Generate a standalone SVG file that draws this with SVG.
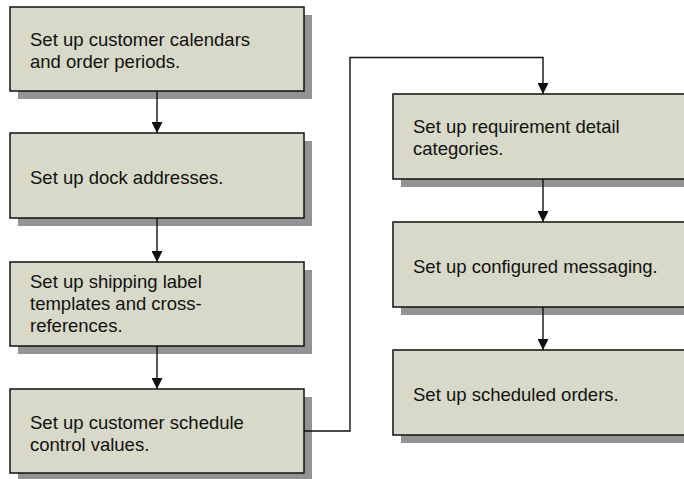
<svg xmlns="http://www.w3.org/2000/svg" width="684" height="479" viewBox="0 0 684 479">
<style>
.shadow{fill:#939393;}
.box{fill:#d8d9c8;stroke:#111;stroke-width:1.5;}
.lbl{font-family:"Liberation Sans",Arial,sans-serif;font-size:18.5px;fill:#111;}
.conn{fill:none;stroke:#111;stroke-width:1.4;}
</style>
<defs>
<marker id="arr" markerUnits="userSpaceOnUse" markerWidth="11" markerHeight="11" refX="11" refY="5.5" orient="auto">
<path d="M0,0 L11,5.5 L0,11 z" fill="#111"/>
</marker>
</defs>
<rect width="684" height="479" fill="#fff"/>
<g id="node1">
<rect class="shadow" x="18" y="15" width="294" height="84"/>
<rect class="box" x="10" y="7" width="294" height="84"/>
<text class="lbl" x="30" y="45.5">Set up customer calendars</text>
<text class="lbl" x="30" y="67.5">and order periods.</text>
</g>
<g id="node2">
<rect class="shadow" x="18" y="141" width="294" height="85"/>
<rect class="box" x="10" y="133" width="294" height="85"/>
<text class="lbl" x="30" y="183.5">Set up dock addresses.</text>
</g>
<g id="node3">
<rect class="shadow" x="18" y="270" width="294" height="84"/>
<rect class="box" x="10" y="262" width="294" height="84"/>
<text class="lbl" x="30" y="288">Set up shipping label</text>
<text class="lbl" x="30" y="310">templates and cross-</text>
<text class="lbl" x="30" y="332">references.</text>
</g>
<g id="node4">
<rect class="shadow" x="18" y="397" width="294" height="84"/>
<rect class="box" x="10" y="389" width="294" height="84"/>
<text class="lbl" x="30" y="428.5">Set up customer schedule</text>
<text class="lbl" x="30" y="450.5">control values.</text>
</g>
<g id="node5">
<rect class="shadow" x="401" y="102" width="294" height="85"/>
<rect class="box" x="393" y="94" width="294" height="85"/>
<text class="lbl" x="413" y="132.5">Set up requirement detail</text>
<text class="lbl" x="413" y="154.5">categories.</text>
</g>
<g id="node6">
<rect class="shadow" x="401" y="230" width="294" height="85"/>
<rect class="box" x="393" y="222" width="294" height="85"/>
<text class="lbl" x="413" y="272.5">Set up configured messaging.</text>
</g>
<g id="node7">
<rect class="shadow" x="401" y="358" width="294" height="85"/>
<rect class="box" x="393" y="350" width="294" height="85"/>
<text class="lbl" x="413" y="400.5">Set up scheduled orders.</text>
</g>
<g id="connectors">
<path class="conn" d="M157,91 V133" marker-end="url(#arr)"/>
<path class="conn" d="M157,218 V262" marker-end="url(#arr)"/>
<path class="conn" d="M157,346 V389" marker-end="url(#arr)"/>
<path class="conn" d="M304,431 H350 V57.5 H543 V94" marker-end="url(#arr)"/>
<path class="conn" d="M543,179 V222" marker-end="url(#arr)"/>
<path class="conn" d="M543,307 V350" marker-end="url(#arr)"/>
</g>
</svg>
